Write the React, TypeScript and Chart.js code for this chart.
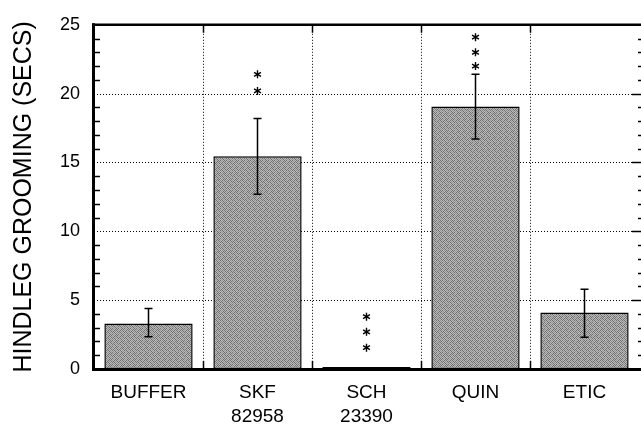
import React, { useEffect, useRef } from "react";
import { Chart, registerables } from "chart.js";

Chart.register(...registerables);

const categories: string[][] = [["BUFFER"], ["SKF", "82958"], ["SCH", "23390"], ["QUIN"], ["ETIC"]];
const means: number[] = [3.3, 15.45, 0.15, 19.07, 4.1];
const errLow: (number | null)[] = [2.35, 12.7, null, 16.7, 2.3];
const errHigh: (number | null)[] = [4.4, 18.2, null, 21.4, 5.8];
const starValues: number[][] = [[], [20.2, 21.4], [1.55, 2.7, 3.8], [22.0, 23.0, 24.1], []];
const yTicks: number[] = [0, 5, 10, 15, 20, 25];

const FONT = "'Liberation Sans', Arial, Helvetica, sans-serif";

function makePattern(): CanvasPattern | string {
  const pc = document.createElement("canvas");
  pc.width = 6;
  pc.height = 6;
  const p = pc.getContext("2d");
  if (!p) return "#939393";
  const D = "#6e6e6e", L = "#b8b8b8", M = "#949494";
  const grid = [
    [D, L, D, L, M, L],
    [L, M, L, D, L, D],
    [D, L, M, L, D, L],
    [L, D, L, M, L, M],
    [M, L, D, L, D, L],
    [L, D, L, D, L, M],
  ];
  for (let r = 0; r < 6; r++)
    for (let c = 0; c < 6; c++) {
      p.fillStyle = grid[r][c];
      p.fillRect(c, r, 1, 1);
    }
  const pat = p.createPattern(pc, "repeat");
  return pat || "#939393";
}

const decorPlugin = {
  id: "decor",
  beforeDatasetsDraw(chart: any) {
    const { ctx, chartArea } = chart;
    const x = chart.scales.x;
    const y = chart.scales.y;
    ctx.save();
    ctx.strokeStyle = "#000";
    ctx.lineWidth = 1;
    ctx.setLineDash([1, 2]);
    yTicks.forEach((v) => {
      if (v === 0 || v === 25) return;
      const py = Math.round(y.getPixelForValue(v)) + 0.5;
      ctx.beginPath();
      ctx.moveTo(chartArea.left, py);
      ctx.lineTo(chartArea.right, py);
      ctx.stroke();
    });
    for (let i = 1; i < categories.length; i++) {
      const px = Math.round((x.getPixelForValue(i - 1) + x.getPixelForValue(i)) / 2) + 0.5;
      ctx.beginPath();
      ctx.moveTo(px, chartArea.top);
      ctx.lineTo(px, chartArea.bottom);
      ctx.stroke();
    }
    ctx.restore();
  },
  afterDatasetsDraw(chart: any) {
    const { ctx, chartArea } = chart;
    const x = chart.scales.x;
    const y = chart.scales.y;
    ctx.save();
    ctx.strokeStyle = "#000";
    ctx.fillStyle = "#000";
    ctx.setLineDash([]);
    ctx.lineWidth = 1.5;
    means.forEach((_, i) => {
      const lo = errLow[i];
      const hi = errHigh[i];
      if (lo == null || hi == null) return;
      const px = x.getPixelForValue(i);
      const y1 = y.getPixelForValue(lo);
      const y2 = y.getPixelForValue(hi);
      ctx.beginPath();
      ctx.moveTo(px, y1);
      ctx.lineTo(px, y2);
      ctx.moveTo(px - 4, y1);
      ctx.lineTo(px + 4, y1);
      ctx.moveTo(px - 4, y2);
      ctx.lineTo(px + 4, y2);
      ctx.stroke();
    });
    ctx.lineWidth = 1.4;
    starValues.forEach((vals, i) => {
      const px = x.getPixelForValue(i);
      vals.forEach((v) => {
        const py = y.getPixelForValue(v);
        const r = 4;
        ctx.beginPath();
        for (let k = 0; k < 3; k++) {
          const a = Math.PI / 2 + (k * Math.PI) / 3;
          ctx.moveTo(px + r * Math.cos(a), py + r * Math.sin(a));
          ctx.lineTo(px - r * Math.cos(a), py - r * Math.sin(a));
        }
        ctx.stroke();
      });
    });
    const L = chartArea.left;
    const R = chartArea.right;
    const T = chartArea.top;
    const B = chartArea.bottom;
    ctx.lineWidth = 3;
    ctx.beginPath();
    ctx.moveTo(L - 0.5, T - 1.5);
    ctx.lineTo(L - 0.5, B + 1.5);
    ctx.stroke();
    ctx.beginPath();
    ctx.moveTo(L - 2, B + 0.5);
    ctx.lineTo(R + 2, B + 0.5);
    ctx.stroke();
    ctx.lineWidth = 2.5;
    ctx.beginPath();
    ctx.moveTo(L - 2, T);
    ctx.lineTo(R + 2, T);
    ctx.stroke();
    ctx.lineWidth = 1.5;
    for (let v = 1; v < 25; v++) {
      const py = Math.round(y.getPixelForValue(v)) + 0.5;
      ctx.beginPath();
      if (v % 5 !== 0) {
        ctx.moveTo(L + 1, py);
        ctx.lineTo(L + 6, py);
        ctx.moveTo(R - 1, py);
        ctx.lineTo(R + 2, py);
      } else {
        ctx.moveTo(R - 7, py);
        ctx.lineTo(R + 2, py);
      }
      ctx.stroke();
    }
    for (let i = 1; i < categories.length; i++) {
      const px = Math.round((x.getPixelForValue(i - 1) + x.getPixelForValue(i)) / 2) + 0.5;
      ctx.beginPath();
      ctx.moveTo(px, B);
      ctx.lineTo(px, B - 8);
      ctx.moveTo(px, T);
      ctx.lineTo(px, T + 8);
      ctx.stroke();
    }
    ctx.restore();
  },
};

export default function App() {
  const ref = useRef<HTMLCanvasElement | null>(null);
  useEffect(() => {
    if (!ref.current) return;
    const fill = makePattern();
    const chart = new Chart(ref.current, {
      type: "bar",
      data: {
        labels: categories,
        datasets: [
          {
            data: means,
            backgroundColor: fill as any,
            borderColor: "#000",
            borderWidth: 1.5,
            borderSkipped: false,
            barPercentage: 0.81,
            categoryPercentage: 1,
          },
        ],
      },
      options: {
        animation: false,
        responsive: false,
        maintainAspectRatio: false,
        events: [],
        layout: { padding: { top: 14, right: 2, left: 0, bottom: 0 } },
        plugins: { legend: { display: false }, tooltip: { enabled: false }, title: { display: false } },
        scales: {
          x: {
            offset: true,
            grid: { display: false, drawTicks: false },
            border: { display: false },
            ticks: {
              color: "#000",
              padding: 12,
              maxRotation: 0,
              autoSkip: false,
              font: { family: FONT, size: 19, lineHeight: 1.27 },
            },
            afterFit: (s: any) => {
              s.height = 55;
            },
          },
          y: {
            min: 0,
            max: 25,
            grid: { display: false, drawTicks: false },
            border: { display: false },
            ticks: {
              stepSize: 5,
              color: "#000",
              padding: 14,
              font: { family: FONT, size: 18 },
            },
            title: {
              display: true,
              text: "HINDLEG GROOMING (SECS)",
              color: "#000",
              font: { family: FONT, size: 25, lineHeight: 1.2 },
              padding: { top: 9, bottom: 0 },
            },
            afterFit: (s: any) => {
              s.width = 94;
            },
          },
        },
      },
      plugins: [decorPlugin],
    });
    return () => chart.destroy();
  }, []);
  return (
    <div style={{ position: "fixed", left: 0, top: 0, width: 641, height: 424, background: "#fff" }}>
      <canvas ref={ref} width={641} height={424} style={{ width: 641, height: 424, display: "block" }} />
    </div>
  );
}
